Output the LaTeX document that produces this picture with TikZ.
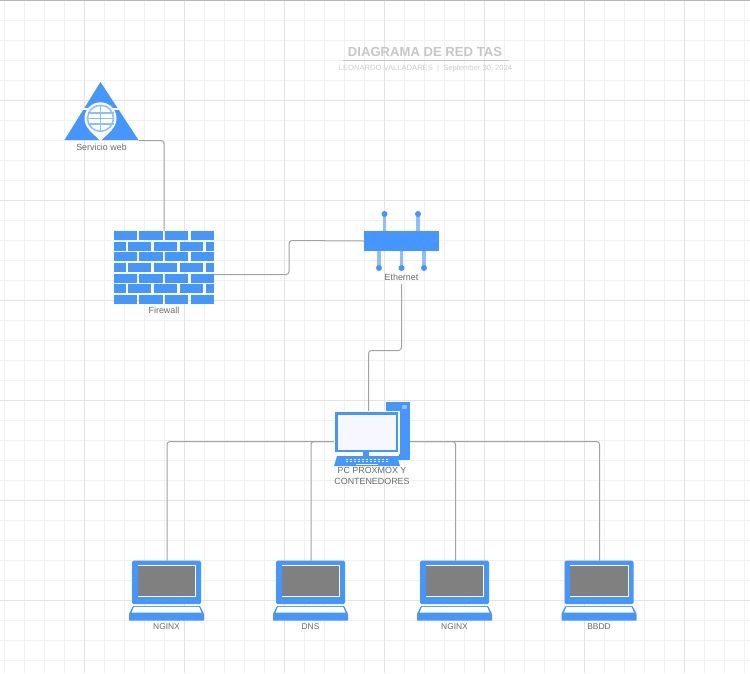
\documentclass[tikz,border=0pt]{standalone}
\usepackage{fontspec}
\setmainfont{Liberation Sans}
\definecolor{iconblue}{HTML}{4596FF}
\definecolor{lightblue}{HTML}{8DBEFF}
\definecolor{minorgrid}{HTML}{F1F1F1}
\definecolor{majorgrid}{HTML}{E3E3E3}
\definecolor{linkgray}{HTML}{A2A2A2}
\definecolor{labelgray}{HTML}{6A6A6A}
\definecolor{screengray}{HTML}{808080}
\tikzset{
  link/.style={draw=linkgray,line width=1pt,rounded corners=3pt},
  lbl/.style={text=labelgray,font=\fontsize{8.9}{11}\selectfont,align=center,inner sep=0pt},
  stem/.style={draw=lightblue,line width=3.5pt},
  pics/laptop/.style={code={
    \fill[iconblue,rounded corners=1.5pt] (-34.5,0) rectangle (34.5,43.5);
    \fill[white] (-29,4.7) rectangle (29.5,36.5);
    \fill[screengray] (-28.7,5) rectangle (28.9,35.5);
    \fill[iconblue,rounded corners=0.6pt] (-33.5,45.3) -- (33.5,45.3) -- (37.5,53) -- (37.5,60) -- (-37.5,60) -- (-37.5,53) -- cycle;
    \fill[white] (-32.6,46.2) -- (32.6,46.2) -- (35,52) -- (-35,52) -- cycle;
  }}
}
\begin{document}
\begin{tikzpicture}[x=1pt,y=-1pt]
\useasboundingbox (0,0) rectangle (750,673);
\fill[white] (0,0) rectangle (750,673);
% grid
\foreach \x in {4.5,24.5,...,744.5} \draw[minorgrid,line width=1pt] (\x,0) -- (\x,673);
\foreach \y in {20.5,40.5,...,660.5} \draw[minorgrid,line width=1pt] (0,\y) -- (750,\y);
\foreach \x in {84.5,184.5,...,684.5} \draw[majorgrid,line width=1pt] (\x,0) -- (\x,673);
\foreach \y in {100.5,200.5,...,600.5} \draw[majorgrid,line width=1pt] (0,\y) -- (750,\y);
\draw[black!28,line width=1pt] (0,0.5) -- (750,0.5);
% title
\node[text=black!22,font=\bfseries\fontsize{13.1}{15}\selectfont,inner sep=0pt] (title) at (425,52) {DIAGRAMA DE RED TAS};
\coordinate (ruleL) at (343,60.5);
\coordinate (ruleR) at (509,60.5);
\draw[black!22,line width=1pt] (ruleL) -- (ruleR);
\node[text=black!20,font=\fontsize{7.6}{9}\selectfont,inner sep=0pt] (subtitle) at (425.5,68.5) {LEONARDO VALLADARES\ \ |\ \ September 30, 2024};
% anchor nodes
\node[inner sep=0pt,minimum width=74pt,minimum height=58pt] (web) at (101.5,111) {};
\node[inner sep=0pt,minimum width=100pt,minimum height=73pt] (fw) at (164,267.5) {};
\node[inner sep=0pt,minimum width=75pt,minimum height=20pt] (eth) at (401.5,241) {};
\node[inner sep=0pt,minimum width=33pt,minimum height=3pt] (ethlbl) at (401.5,282.5) {};
\node[inner sep=0pt,minimum width=75pt,minimum height=58pt] (pc) at (372.5,441.5) {};
\foreach \n/\x in {a/167,b/311,c/455.5,d/599.5}
  \node[inner sep=0pt,minimum width=69pt,minimum height=44pt] (lap\n) at (\x,582.7) {};
% connectors
\draw[link] (web.east |- 0,140.5) -- (164,140.5) -- (fw.north);
\draw[link] (fw.east |- 0,274.5) -- (289,274.5) -- (289,240.5) -- (eth.west);
\draw[link] (ethlbl.south) -- (401.5,350.5) -- (368.5,350.5) -- (368.5,413);
\draw[link] (pc.west) -- (167,441.5) -- (lapa.north);
\draw[link] (pc.west) -| (lapb.north);
\draw[link] (pc.east) -- (455.5,441.5) -- (lapc.north);
\draw[link] (pc.east) -- (599.5,441.5) -- (lapd.north);
% web icon
\fill[iconblue] (100.5,82) -- (138.5,140) -- (64.5,140) -- cycle;
\fill[white] (75,107.5) rectangle (127,110);
\fill[white] (100.5,118.3) circle (16);
\fill[white] (89,130) -- (112,130) -- (100.5,141) -- cycle;
\draw[lightblue,line width=1.5pt] (100.5,118.3) circle (13);
\draw[lightblue,line width=1.2pt] (87.5,113) -- (113.5,113) (87,118.3) -- (114,118.3) (87.5,124) -- (113.5,124);
\draw[lightblue,line width=1.5pt] (100.5,105.3) -- (100.5,131.3);
\node[lbl] (weblbl) at (101.5,147) {Servicio web};
% firewall
\foreach \y in {231,252.3,273.7,294.7}{
  \fill[iconblue] (114,\y) rectangle (137,\y+9);
  \fill[iconblue] (139,\y) rectangle (163,\y+9);
  \fill[iconblue] (165,\y) rectangle (188.3,\y+9);
  \fill[iconblue] (190.5,\y) rectangle (214,\y+9);
}
\foreach \y in {241.7,263,283.7}{
  \fill[iconblue] (114,\y) rectangle (126,\y+9);
  \fill[iconblue] (128,\y) rectangle (151.3,\y+9);
  \fill[iconblue] (154,\y) rectangle (177.3,\y+9);
  \fill[iconblue] (180,\y) rectangle (203.3,\y+9);
  \fill[iconblue] (206,\y) rectangle (214,\y+9);
}
\node[lbl] (fwlbl) at (164,310) {Firewall};
% ethernet icon
\foreach \x in {384.5,418}{
  \draw[stem] (\x,214) -- (\x,231);
  \fill[iconblue] (\x,214) circle (3);
}
\foreach \x in {379,401.5,424}{
  \draw[stem] (\x,251) -- (\x,268);
  \fill[iconblue] (\x,268) circle (3);
}
\fill[iconblue] (364,231) rectangle (439,251);
\node[lbl] (ethtext) at (401.5,277) {Ethernet};
% pc icon
\fill[iconblue] (386,402) rectangle (409.5,460);
\fill[lightblue] (401.8,405) rectangle (407.3,409);
\fill[white] (333.5,410.5) rectangle (399.5,453.5);
\fill[iconblue] (335,412) rectangle (397.7,452.3);
\fill[white!97!blue] (338,415) rectangle (396,450);
\fill[iconblue] (363,452) rectangle (369,456);
\fill[white] (383,453.5) rectangle (399,456);
\fill[iconblue] (337,456) -- (397,456) -- (400,466) -- (334,466) -- cycle;
\foreach \x in {346,350,...,388} \fill[white] (\x,458.5) rectangle +(2,1);
\foreach \x in {346,350,...,388} \fill[white] (\x,461) rectangle +(2,1);
\fill[white] (356,463.5) rectangle (378,465);
\node[lbl] (pclbl) at (372,476) {PC PROXMOX Y\\CONTENEDORES};
% laptops
\foreach \n/\x/\t in {a/166.5/NGINX,b/310.5/DNS,c/454.5/NGINX,d/599/BBDD}{
  \pic at (\x,560.7) {laptop};
  \node[lbl,font=\fontsize{8.4}{10}\selectfont] (txt\n) at (\x,627) {\t};
}
\end{tikzpicture}
\end{document}
